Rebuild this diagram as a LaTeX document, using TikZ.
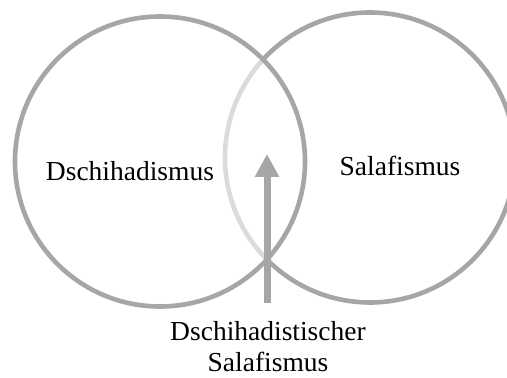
\documentclass[tikz,border=0pt]{standalone}
\usepackage{fontspec}
\setmainfont{Liberation Serif}
\usepackage{tikz}
\usetikzlibrary{arrows.meta}

\definecolor{kreisgrau}{HTML}{A6A6A6}

\begin{document}
\begin{tikzpicture}[x=1pt,y=1pt,
    kreis/.style={circle,draw=kreisgrau,line width=4.6pt,minimum size=290pt,inner sep=0pt},
    beschr/.style={font=\fontsize{27.5}{31}\selectfont,align=center,inner sep=0pt},
    pfeil/.style={kreisgrau,line width=7pt,-{Triangle[width=23pt,length=23pt]}}]
  \useasboundingbox (0,0) rectangle (507,378);
  \clip (0,0) rectangle (507,378);
  % right circle first, the left one lies over it
  \node[kreis] (sala) at (370,220.5) {};
  \node[kreis,fill=white,fill opacity=0.6] (dsch) at (160,216.5) {};
  % labels
  \node[beschr] (dschlabel) at (130,207) {Dschihadismus};
  \node[beschr] (salalabel) at (400,212) {Salafismus};
  \node[beschr] (schnitt) at (268,31) {Dschihadistischer\\Salafismus};
  % arrow into the overlap
  \coordinate (fuss) at (267,75);
  \coordinate (spitze) at (267,224);
  \draw[pfeil] (fuss) -- (spitze);
\end{tikzpicture}
\end{document}
